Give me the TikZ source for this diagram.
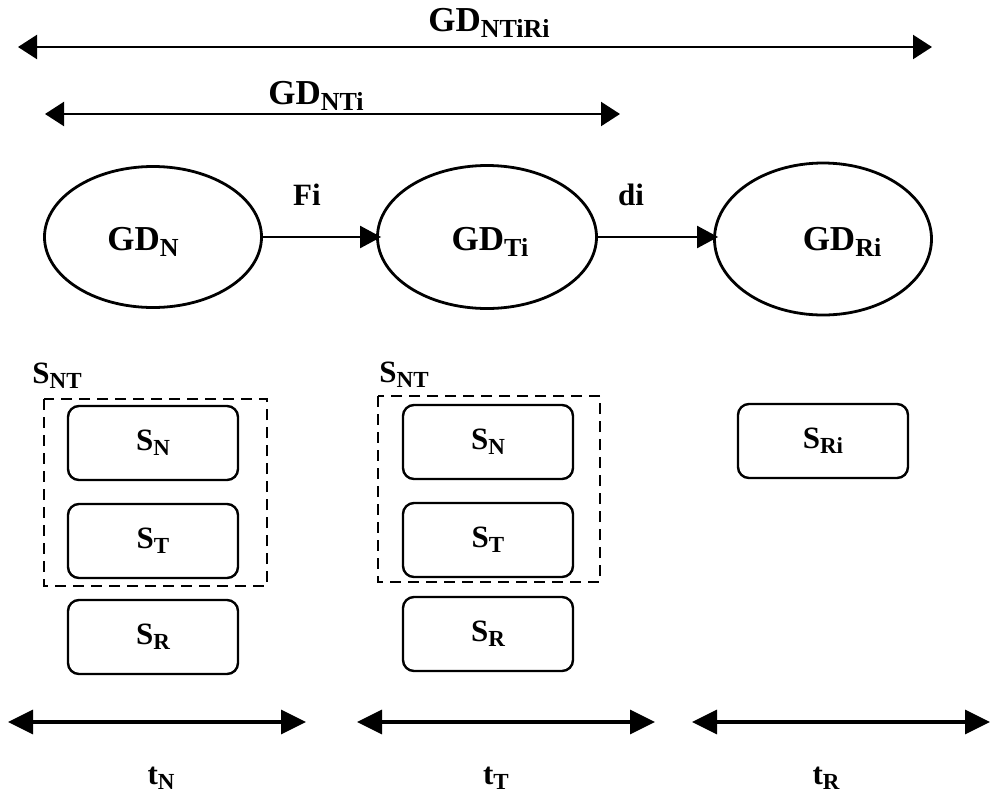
\documentclass[tikz,border=0pt]{standalone}
\usepackage{fontspec}
\setmainfont{Liberation Serif}
\usetikzlibrary{arrows.meta,shapes.geometric}
\newcommand\GDl[1]{{\bfseries\fontsize{35}{35}\selectfont GD\raisebox{-6pt}{\fontsize{26}{26}\selectfont #1}}}
\newcommand\Sl[1]{{\bfseries\fontsize{31}{31}\selectfont S\raisebox{-5pt}{\fontsize{23}{23}\selectfont #1}}}
\newcommand\tl[1]{{\bfseries\fontsize{31}{31}\selectfont t\raisebox{-5pt}{\fontsize{23}{23}\selectfont #1}}}
\tikzset{
  ell/.style={draw,ellipse,line width=2.8pt,inner sep=0pt},
  sbox/.style={draw,rounded corners=11pt,line width=2.4pt,minimum width=170pt,minimum height=74pt,inner sep=0pt},
  dbox/.style={draw,dashed,dash pattern=on 11pt off 7pt,line width=2pt},
  span/.style={line width=2.2pt,{Triangle[length=19pt,width=24pt]}-{Triangle[length=19pt,width=24pt]}},
  tspan/.style={line width=3.2pt,{Triangle[length=25pt,width=24pt]}-{Triangle[length=25pt,width=24pt]}},
  flow/.style={line width=2.2pt,-{Triangle[length=21pt,width=22pt]},shorten >=-5pt},
  txt/.style={inner sep=0pt}
}
\begin{document}
\begin{tikzpicture}[x=1pt,y=-1pt]
\useasboundingbox (0,0) rectangle (992,796);
% top spans
\coordinate (a1) at (18,47);
\coordinate (a2) at (932,47);
\draw[span] (a1) -- (a2);
\node[txt] (lab1) at (489,23) {\GDl{NTiRi}};
\coordinate (b1) at (45,114);
\coordinate (b2) at (620,114);
\draw[span] (b1) -- (b2);
\node[txt] (lab2) at (316,96) {\GDl{NTi}};
% ellipses
\node[ell,minimum width=217pt,minimum height=141pt] (gdn) at (153,237) {};
\node[txt] (gdnt) at (143,242) {\GDl{N}};
\node[ell,minimum width=219pt,minimum height=143pt] (gdt) at (487,237) {};
\node[txt] (gdtt) at (490,242) {\GDl{Ti}};
\node[ell,minimum width=217pt,minimum height=152pt] (gdr) at (823,239) {};
\node[txt] (gdrt) at (842,242) {\GDl{Ri}};
\draw[flow] (gdn.east) -- (gdn.east -| gdt.west);
\draw[flow] (gdt.east) -- (gdt.east -| gdr.west);
\node[txt] (fi) at (307,195) {\bfseries\fontsize{31}{31}\selectfont Fi};
\node[txt] (di) at (631,195) {\bfseries\fontsize{31}{31}\selectfont di};
% left column
\node[txt] (snt1) at (57,376) {\Sl{NT}};
\draw[dbox] (44,399) rectangle (267,586);
\node[sbox] (sn1) at (153,443) {\Sl{N}};
\node[sbox] (st1) at (153,541) {\Sl{T}};
\node[sbox] (sr1) at (153,637) {\Sl{R}};
% middle column
\node[txt] (snt2) at (404,375) {\Sl{NT}};
\draw[dbox] (378,396) rectangle (600,582);
\node[sbox] (sn2) at (488,442) {\Sl{N}};
\node[sbox] (st2) at (488,540) {\Sl{T}};
\node[sbox] (sr2) at (488,634) {\Sl{R}};
% right column
\node[sbox] (sri) at (823,441) {\Sl{Ri}};
% time spans
\coordinate (c1) at (8,722);
\coordinate (c2) at (306,722);
\draw[tspan] (c1) -- (c2);
\coordinate (d1) at (357,722);
\coordinate (d2) at (655,722);
\draw[tspan] (d1) -- (d2);
\coordinate (e1) at (692,722);
\coordinate (e2) at (990,722);
\draw[tspan] (e1) -- (e2);
\node[txt] (tn) at (161,778) {\tl{N}};
\node[txt] (tt) at (496,778) {\tl{T}};
\node[txt] (tr) at (826,778) {\tl{R}};
\end{tikzpicture}
\end{document}
